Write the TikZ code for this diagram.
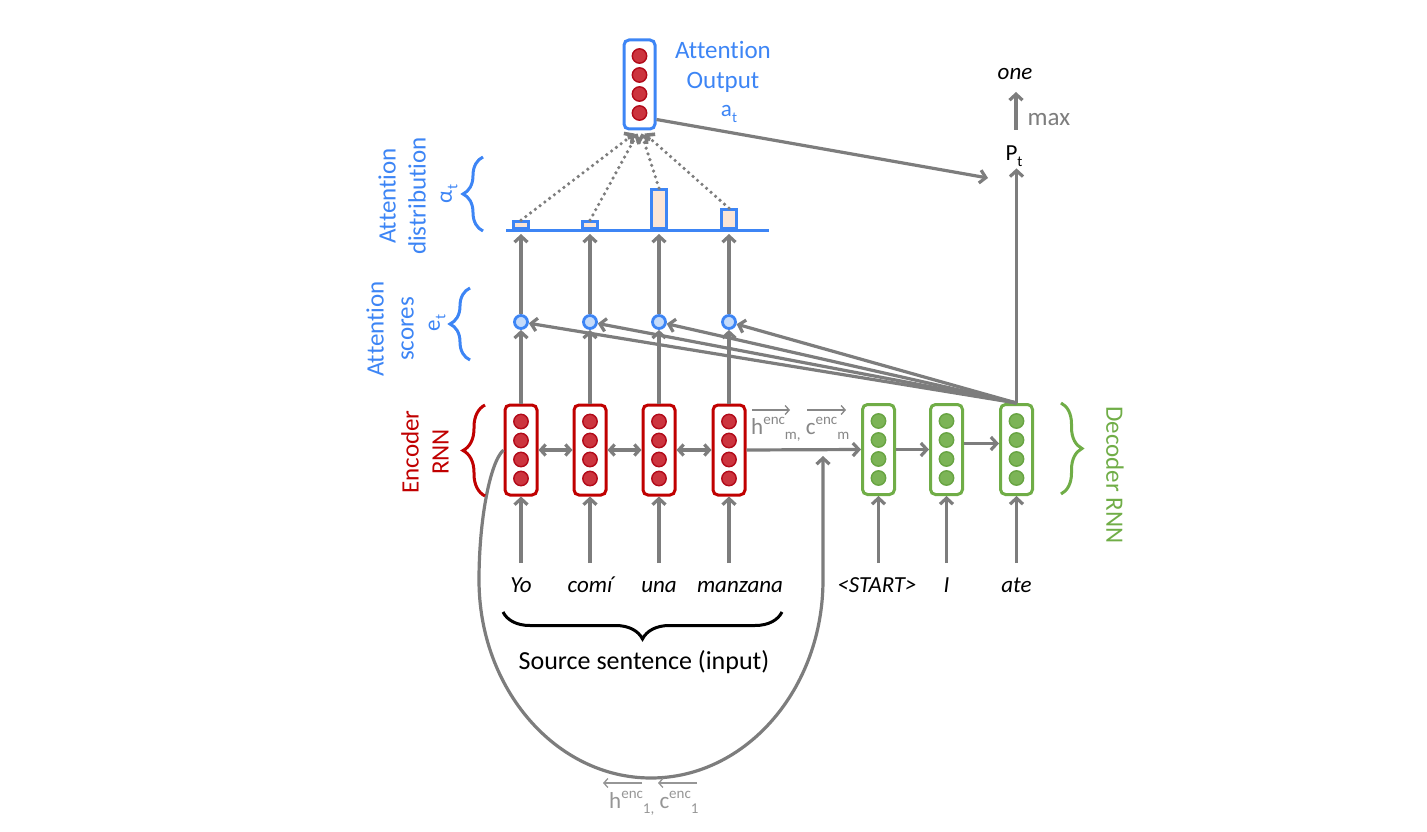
\documentclass[tikz,border=0pt]{standalone}
\usepackage{fontspec}
\setmainfont{Carlito}[Ligatures=NoCommon]
\usetikzlibrary{arrows.meta,decorations.pathreplacing,calc}
\definecolor{cgray}{RGB}{125,125,125}
\definecolor{lgray}{RGB}{135,135,135}
\definecolor{llgray}{RGB}{150,150,150}
\definecolor{cblue}{RGB}{61,133,245}
\definecolor{cred}{RGB}{192,0,0}
\definecolor{credfill}{RGB}{204,52,62}
\definecolor{credline}{RGB}{178,10,25}
\definecolor{cgreen}{RGB}{112,173,71}
\definecolor{cgreenfill}{RGB}{124,180,86}
\definecolor{cgreenline}{RGB}{104,164,66}
\definecolor{lblue}{RGB}{197,219,250}
\definecolor{peach}{RGB}{251,229,214}
\newcommand\mysup[1]{\raisebox{0.42em}{\fontsize{15}{15}\selectfont #1}}
\newcommand\mysub[1]{\raisebox{-0.24em}{\fontsize{15}{15}\selectfont #1}}
\newcommand\drawdots[3]{%
  \foreach \d in {-28.5,-9.5,9.5,28.5}
    \filldraw[fill=#2,draw=#3,line width=1.4pt] ($(#1)+(0,\d)$) circle[radius=7.2pt];}
\begin{document}
\begin{tikzpicture}[x=1pt,y=-1pt,
  tip/.style={-{Straight Barb[length=6pt,width=13pt]}},
  conn/.style={draw=cgray,line width=3.2pt,tip},
  biconn/.style={draw=cgray,line width=3.2pt,{Straight Barb[length=5pt,width=11pt]}-{Straight Barb[length=5pt,width=11pt]}},
  dotconn/.style={draw=cgray,line width=3.6pt,line cap=round,dash pattern=on 0pt off 6pt,tip},
  thinarr/.style={draw=lgray,line width=1.3pt,-{Straight Barb[length=4pt,width=9pt]}},
  cellbox/.style={rectangle,rounded corners=5pt,line width=3pt,minimum width=32pt,minimum height=90pt,inner sep=0pt,fill=white},
  encbox/.style={cellbox,draw=cred},
  decbox/.style={cellbox,draw=cgreen},
  attbox/.style={cellbox,draw=cblue,minimum height=89pt,minimum width=31pt},
  score/.style={circle,draw=cblue,fill=lblue,line width=2.8pt,minimum size=13pt,inner sep=0pt},
  bar/.style={rectangle,draw=cblue,fill=peach,line width=2.8pt,minimum width=15pt,inner sep=0pt,anchor=south},
  bluelab/.style={text=cblue,font=\fontsize{25}{30}\selectfont,align=center,inner sep=0pt},
  word/.style={font=\fontsize{23}{26}\selectfont\itshape,anchor=base,inner sep=0pt},
  brc/.style={decorate,decoration={brace,amplitude=#1},line width=3pt},
]
\useasboundingbox (0,0) rectangle (1427,832);

% ---------- encoder / decoder cells ----------
\node[encbox] (enc1) at (521,450) {};
\node[encbox] (enc2) at (590,450) {};
\node[encbox] (enc3) at (659,450) {};
\node[encbox] (enc4) at (729,450) {};
\node[decbox] (dec1) at (878.5,449.5) {};
\node[decbox] (dec2) at (946.5,449.5) {};
\node[decbox] (dec3) at (1016.5,449.5) {};
\node[attbox] (att) at (639.5,84.5) {};
\drawdots{enc1}{credfill}{credline}
\drawdots{enc2}{credfill}{credline}
\drawdots{enc3}{credfill}{credline}
\drawdots{enc4}{credfill}{credline}
\drawdots{dec1}{cgreenfill}{cgreenline}
\drawdots{dec2}{cgreenfill}{cgreenline}
\drawdots{dec3}{cgreenfill}{cgreenline}
\drawdots{att}{credfill}{credline}

% ---------- attention scores ----------
\node[score] (sc1) at (521,322) {};
\node[score] (sc2) at (590,322) {};
\node[score] (sc3) at (659,322) {};
\node[score] (sc4) at (729,322) {};

% ---------- attention distribution ----------
\node[bar,minimum height=7pt] (bar1) at (521,230) {};
\node[bar,minimum height=7pt] (bar2) at (590,230) {};
\node[bar,minimum height=39pt] (bar3) at (659,230) {};
\node[bar,minimum height=19pt] (bar4) at (729,230) {};
\draw[cblue,line width=3pt] (506,230) -- (769,230);
\coordinate (b1) at (521,234);
\coordinate (b2) at (590,234);
\coordinate (b3) at (659,234);
\coordinate (b4) at (729,234);

% ---------- words ----------
\node[word] (w1) at (521,592) {Yo};
\node[word] (w2) at (590,592) {comí};
\node[word] (w3) at (659,592) {una};
\node[word] (w4) at (740,592) {manzana};
\node[word] (w5) at (877,592) {<START>};
\node[word] (w6) at (946.5,592) {I};
\node[word] (w7) at (1016.5,592) {ate};
\coordinate (i1) at (521,563);
\coordinate (i2) at (590,563);
\coordinate (i3) at (659,563);
\coordinate (i4) at (729,563);
\coordinate (i5) at (878.5,563);
\coordinate (i6) at (946.5,563);
\coordinate (i7) at (1016.5,563);

\draw[brc=27pt,black] (782,612) -- (503,612);
\node[font=\fontsize{26}{28}\selectfont,inner sep=0pt] (src) at (644,662) {Source sentence (input)};

% ---------- connectors ----------
\foreach \k in {1,2,3,4} {
  \draw[conn] (i\k) -- (enc\k.south);
  \draw[conn] (enc\k.north) -- (sc\k.south);
  \draw[conn] (sc\k.north) -- (b\k);
}
\foreach \k/\n in {5/1,6/2,7/3} \draw[conn] (i\k) -- (dec\n.south);
\draw[biconn] (enc1.east) -- (enc2.west);
\draw[biconn] (enc2.east) -- (enc3.west);
\draw[biconn] (enc3.east) -- (enc4.west);
\draw[conn] (enc4.east) -- (dec1.west);
\draw[conn] (dec1.east) -- (dec2.west);
\draw[conn] ($(dec2.east)+(0,-6)$) -- ($(dec3.west)+(0,-6)$);
\foreach \k in {1,2,3,4} \draw[conn] (dec3.north) -- (sc\k);
\draw[dotconn] (bar1.north) -- ($(att.south)+(-5,3)$);
\draw[dotconn] (bar2.north) -- ($(att.south)+(-2,3)$);
\draw[dotconn] (bar3.north) -- ($(att.south)+(2,3)$);
\draw[dotconn] (bar4.north) -- ($(att.south)+(5,3)$);

% loop from first encoder back
\draw[conn] (enc1.west) .. controls (490,462) and (479,520) .. (479,580)
  .. controls (479,689) and (556,778) .. (651,778)
  .. controls (746,778) and (823,689) .. (823,580) -- (823,456);

% ---------- output ----------
\node[font=\fontsize{23}{26}\selectfont,inner sep=2pt] (pt) at (1014,156) {P\mysub{t}};
\coordinate (ptin) at (988,178);
\draw[conn] ($(att.south east)+(0,-11)$) -- (ptin);
\draw[conn] (dec3.north) -- (dec3.north |- pt.south);
\coordinate (m1) at (1016,130);
\coordinate (m2) at (1016,92);
\draw[conn] (m1) -- (m2);
\node[font=\fontsize{23}{25}\selectfont\itshape,inner sep=0pt] (one) at (1015,74) {one};
\node[font=\fontsize{25}{28}\selectfont,text=cgray,inner sep=0pt] (max) at (1049,120) {max};

% ---------- labels ----------
\node[bluelab] (attout) at (723,67) {Attention\\Output};
\node[text=cblue,font=\fontsize{23}{25}\selectfont,inner sep=0pt] (at) at (729,114) {a\mysub{t}};
\node[bluelab,rotate=90] (ldist) at (402,196) {Attention\\distribution};
\node[bluelab,rotate=90] (lscore) at (390,329) {Attention\\scores};
\node[text=cblue,font=\fontsize{23}{25}\selectfont,rotate=90,inner sep=0pt] (alpha) at (449,194) {α\mysub{t}};
\node[text=cblue,font=\fontsize{23}{25}\selectfont,rotate=90,inner sep=0pt] (et) at (437,323) {e\mysub{t}};
\node[bluelab,text=cred,rotate=90] (lenc) at (425,452) {Encoder\\RNN};
\node[bluelab,text=cgreen,rotate=-90] (ldec) at (1115,475) {Decoder RNN};

\draw[brc=20pt,cblue] (483,231) -- (483,157);
\draw[brc=20pt,cblue] (470,360) -- (470,288);
\draw[brc=22pt,cred] (485,496) -- (485,405);
\draw[brc=21pt,cgreen] (1061,403) -- (1061,494);

% hidden state labels
\node[text=lgray,font=\fontsize{23}{25}\selectfont,anchor=base west,inner sep=0pt] (hm) at (751,434)
  {h\mysup{enc}\mysub{m,} c\mysup{enc}\mysub{m}};
\draw[thinarr] (752,410) -- (790,410);
\draw[thinarr] (807,410) -- (846,410);
\node[text=llgray,font=\fontsize{23}{25}\selectfont,anchor=base west,inner sep=0pt] (h1) at (609,808)
  {h\mysup{enc}\mysub{1,} c\mysup{enc}\mysub{1}};
\draw[thinarr,draw=llgray] (642,783) -- (603,783);
\draw[thinarr,draw=llgray] (697,783) -- (658,783);
\end{tikzpicture}
\end{document}
